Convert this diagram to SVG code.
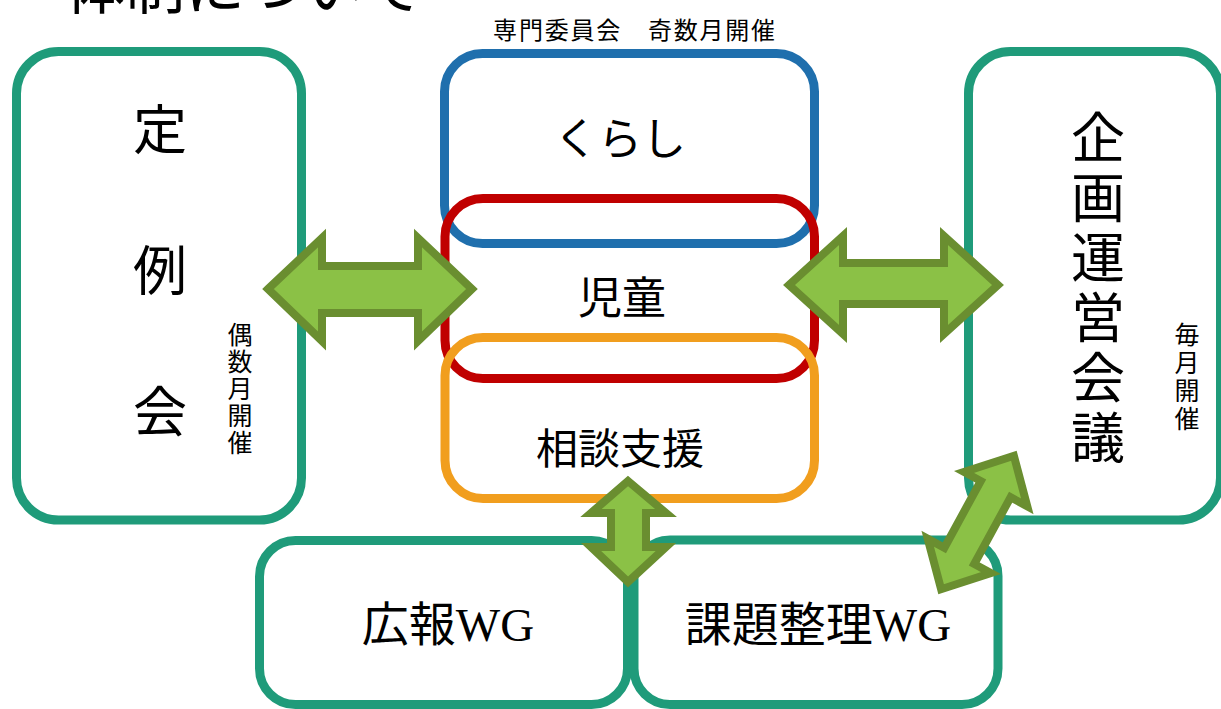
<svg xmlns="http://www.w3.org/2000/svg" width="1221" height="709" viewBox="0 0 1221 709">
<style>
.box{fill:none;stroke-width:9}
.teal{stroke:#1f9b7a}
.blue{stroke:#1f6fad}
.red{stroke:#c00000}
.orange{stroke:#f19e1e}
.arrow{fill:#8bc146;stroke:#6a8e30;stroke-width:8;stroke-linejoin:miter}
.jp{font-family:"Noto Sans CJK JP","Noto Sans",sans-serif;fill:#000}
.serif{font-family:"Liberation Serif","Noto Sans CJK JP",serif;fill:#000}
</style>
<rect width="1221" height="709" fill="#fff"/>
<text class="jp" x="65" y="9" font-size="60">体制について</text>

<g id="teirei">
<rect class="box teal" x="16.5" y="51.5" width="285" height="468.5" rx="42"/>
<text class="jp" font-size="54" text-anchor="middle"><tspan x="160" y="150">定</tspan><tspan x="160" y="291">例</tspan><tspan x="160" y="432">会</tspan></text>
<text class="jp" font-size="25" text-anchor="middle"><tspan x="240" y="344">偶</tspan><tspan x="240" y="371">数</tspan><tspan x="240" y="398">月</tspan><tspan x="240" y="425">開</tspan><tspan x="240" y="452">催</tspan></text>
</g>

<g id="senmon">
<text class="jp" x="635" y="39" font-size="24" letter-spacing="1.8" text-anchor="middle">専門委員会　奇数月開催</text>
</g>
<g id="kurashi">
<rect class="box blue" x="444.5" y="53.5" width="370" height="190" rx="38"/>
<text class="jp" x="620" y="155" font-size="44" text-anchor="middle">くらし</text>
</g>
<g id="jidou">
<rect class="box red" x="445" y="198.5" width="369.5" height="180" rx="38"/>
<text class="jp" x="622" y="314" font-size="44" text-anchor="middle">児童</text>
</g>
<g id="soudan">
<rect class="box orange" x="445" y="337.5" width="369.5" height="161" rx="38"/>
<text class="jp" x="620" y="464" font-size="42" text-anchor="middle">相談支援</text>
</g>

<g id="kikaku">
<rect class="box teal" x="968.5" y="51.5" width="252" height="468.5" rx="42"/>
<text class="jp" font-size="54" text-anchor="middle"><tspan x="1098" y="158">企</tspan><tspan x="1098" y="218">画</tspan><tspan x="1098" y="278">運</tspan><tspan x="1098" y="338">営</tspan><tspan x="1098" y="398">会</tspan><tspan x="1098" y="458">議</tspan></text>
<text class="jp" font-size="25" text-anchor="middle"><tspan x="1187" y="344">毎</tspan><tspan x="1187" y="372">月</tspan><tspan x="1187" y="400">開</tspan><tspan x="1187" y="428">催</tspan></text>
</g>

<g id="kouhou">
<rect class="box teal" x="259.5" y="540.5" width="368" height="164" rx="36"/>
<text class="serif" x="448" y="641" font-size="47" text-anchor="middle">広報WG</text>
</g>
<g id="kadai">
<rect class="box teal" x="634" y="540" width="364" height="164.5" rx="36"/>
<text class="serif" x="818" y="641" font-size="47" text-anchor="middle">課題整理WG</text>
</g>

<g id="connectors">
<path class="arrow" d="M268,289 L322,238 L322,266 L418,266 L418,238 L472,289 L418,341 L418,313 L322,313 L322,341 Z"/>
<path class="arrow" d="M789,285 L843,236 L843,263 L944,263 L944,236 L998,285 L944,334 L944,304 L843,304 L843,334 Z"/>
<path class="arrow" d="M628,481 L666,513 L646,513 L646,547 L666,547 L628,582 L591,547 L611,547 L611,513 L591,513 Z"/>
<path class="arrow" transform="translate(977.5,522.5) rotate(-61.4)" d="M-76,0 L-38,-36 L-38,-17 L38,-17 L38,-36 L76,0 L38,36 L38,17 L-38,17 L-38,36 Z"/>
</g>
</svg>
